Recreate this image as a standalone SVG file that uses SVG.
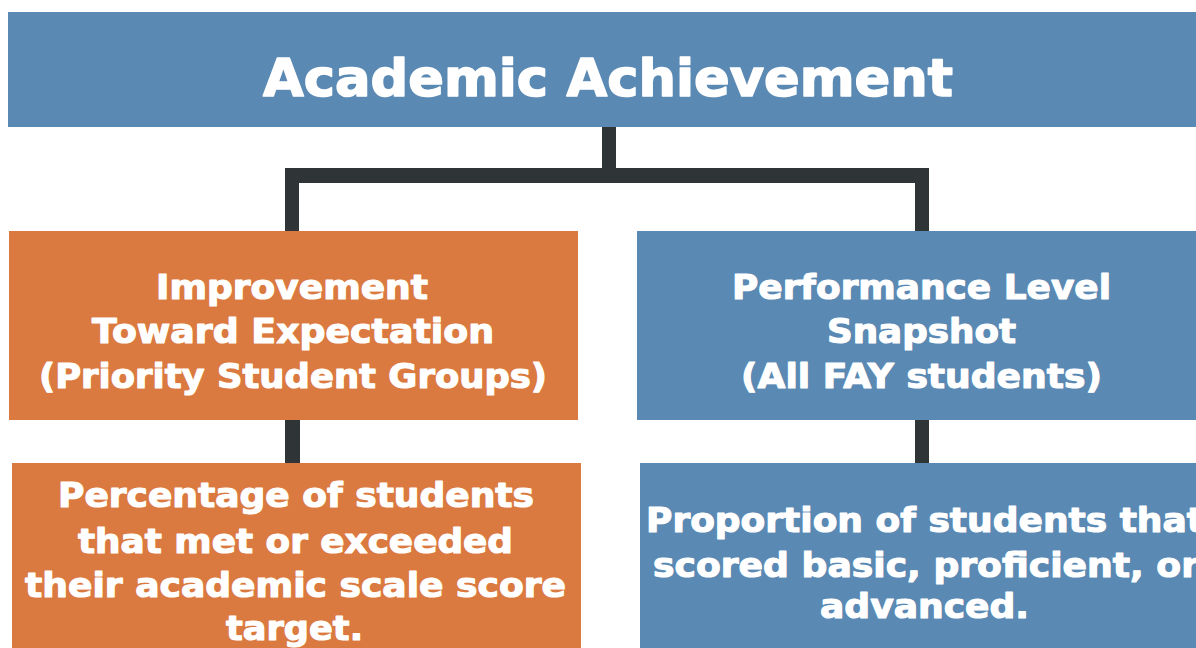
<svg xmlns="http://www.w3.org/2000/svg" width="1196" height="648" viewBox="0 0 1196 648">
<style>
.blue{fill:#5A89B3}
.orange{fill:#DB7A40}
.conn{fill:#2F3437}
text{font-family:"DejaVu Sans","Liberation Sans",sans-serif;font-weight:bold;fill:#FFFFFF;stroke:#FFFFFF;stroke-linejoin:round}
.t{font-size:52px;stroke-width:1.6px}
.s{font-size:33px;stroke-width:1.1px}
</style>
<rect width="1196" height="648" fill="#FFFFFF"/>
<g id="connectors">
<rect class="conn" x="602" y="126" width="14" height="44"/>
<rect class="conn" x="285" y="168" width="644" height="15"/>
<rect class="conn" x="285" y="168" width="14" height="65"/>
<rect class="conn" x="915" y="168" width="14" height="65"/>
<rect class="conn" x="285" y="418" width="15" height="47"/>
<rect class="conn" x="915" y="418" width="14" height="47"/>
</g>
<g id="academic-achievement">
<rect class="blue" x="8" y="12" width="1188" height="115"/>
<text class="t" x="263" y="96" textLength="690" lengthAdjust="spacingAndGlyphs">Academic Achievement</text>
</g>
<g id="improvement">
<rect class="orange" x="9" y="231" width="569" height="189"/>
<text class="s" x="156" y="299" textLength="272" lengthAdjust="spacingAndGlyphs">Improvement</text>
<text class="s" x="92" y="343" textLength="402" lengthAdjust="spacingAndGlyphs">Toward Expectation</text>
<text class="s" x="39" y="388" textLength="508" lengthAdjust="spacingAndGlyphs">(Priority Student Groups)</text>
</g>
<g id="performance-level">
<rect class="blue" x="637" y="231" width="559" height="189"/>
<text class="s" x="732" y="299" textLength="379" lengthAdjust="spacingAndGlyphs">Performance Level</text>
<text class="s" x="827" y="343" textLength="189" lengthAdjust="spacingAndGlyphs">Snapshot</text>
<text class="s" x="741" y="388" textLength="361" lengthAdjust="spacingAndGlyphs">(All FAY students)</text>
</g>
<g id="percentage">
<rect class="orange" x="12" y="463" width="569" height="185"/>
<text class="s" x="58" y="507" textLength="476" lengthAdjust="spacingAndGlyphs">Percentage of students</text>
<text class="s" x="78" y="553" textLength="435" lengthAdjust="spacingAndGlyphs">that met or exceeded</text>
<text class="s" x="25" y="597" textLength="541" lengthAdjust="spacingAndGlyphs">their academic scale score</text>
<text class="s" x="226" y="640" textLength="137" lengthAdjust="spacingAndGlyphs">target.</text>
</g>
<g id="proportion">
<rect class="blue" x="640" y="463" width="556" height="185"/>
<text class="s" x="646" y="532" textLength="558" lengthAdjust="spacingAndGlyphs">Proportion of students that</text>
<text class="s" x="653" y="577" textLength="546" lengthAdjust="spacingAndGlyphs">scored basic, proficient, or</text>
<text class="s" x="820" y="618" textLength="209" lengthAdjust="spacingAndGlyphs">advanced.</text>
</g>
</svg>
